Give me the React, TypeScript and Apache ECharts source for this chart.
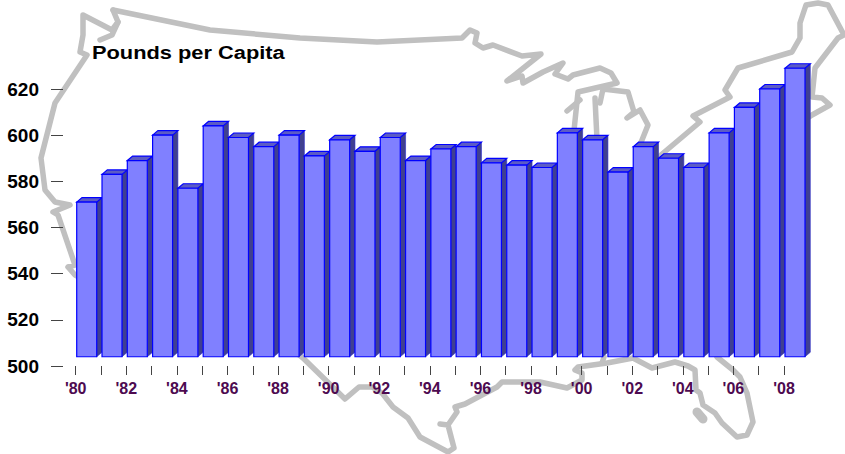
import React, { useEffect, useRef } from "react";
import * as echarts from "echarts";

const years = ["'80","'81","'82","'83","'84","'85","'86","'87","'88","'89","'90","'91","'92","'93","'94","'95","'96","'97","'98","'99","'00","'01","'02","'03","'04","'05","'06","'07","'08"];
const pounds = [571,583,589,600,577,604,599,595,600,591,598,593,599,589,594,595,588,587,586,601,598,584,595,590,586,601,612,620,629];
const barBase = 504;
const titleText = "Pounds per Capita";

const mapNorth = [[113,10],[210,30],[300,38],[377,42],[462,38],[470,30],[477,33],[475,43],[483,48],[493,45],[522,56],[541,54],[507,81],[522,76],[523,83],[543,72],[563,63],[555,74],[568,79],[573,75],[600,68],[611,73],[617,83],[578,92],[573,140]];
const mapGreenBay = [[567,111],[580,100]];
const mapMichiganWest = [[597,140],[595,98]];
const mapMichigan = [[600,103],[603,89],[628,92],[634,112],[627,118],[640,110],[648,125],[640,145]];
const mapEast = [[655,160],[700,122],[693,116],[730,97],[725,90],[738,68],[792,52],[800,38],[800,23],[806,5],[818,3],[828,5],[844,35],[838,38],[815,68],[812,97],[822,98],[830,105],[812,115],[790,130]];
const mapSouth = [[717,357],[733,370],[740,377],[747,393],[753,422],[747,435],[737,437],[722,423],[715,413],[703,405],[700,393],[696,390],[695,370],[688,366],[675,362],[652,368],[633,358],[607,363],[578,367],[575,370],[582,373],[582,380],[567,388],[540,382],[502,382],[497,387],[465,404],[455,407],[457,412],[448,425],[440,424],[448,425],[454,448],[448,452],[420,437],[408,418],[393,407],[382,393],[372,387],[359,387],[345,399],[303,358],[280,340]];
const mapWest = [[85,280],[75,275],[68,267],[75,265],[58,215],[53,212],[70,205],[55,202],[45,190],[41,158],[55,103],[87,55],[80,52],[83,35],[83,15],[112,30],[118,22],[113,10]];
const mapHook = [[100,40],[112,35],[118,22]];
const mapStub = [[602,363],[604,357]];
const mapKeys = [[697,412],[703,419]];
const mapLines = [mapNorth, mapGreenBay, mapMichiganWest, mapMichigan, mapEast, mapSouth, mapWest, mapHook, mapStub];

const LINE = "#0000ff";

function renderBar(params: any, api: any) {
  const i = api.value(0);
  const top = api.coord([i, api.value(1)]);
  const base = api.coord([i, barBase]);
  const pitch = api.size([1, 0])[0];
  const x0 = top[0] + pitch * 0.04;
  const x1 = x0 + pitch * 0.79;
  const dx = pitch * 0.21;
  const dy = 4.5;
  const y0 = top[1];
  const y1 = base[1];
  const stroke = { stroke: LINE, lineWidth: 1.2, lineJoin: "miter" };
  return {
    type: "group",
    children: [
      { type: "polygon", shape: { points: [[x1, y0], [x1 + dx, y0 - dy], [x1 + dx, y1 - dy], [x1, y1]] }, style: { fill: "#404090", stroke: "#2a2ac8", lineWidth: 0.6 } },
      { type: "polygon", shape: { points: [[x0, y0], [x0 + dx, y0 - dy], [x1 + dx, y0 - dy], [x1, y0]] }, style: { fill: "#5c5cc4", ...stroke } },
      { type: "rect", shape: { x: x0, y: y0, width: x1 - x0, height: y1 - y0 }, style: { fill: "#8080ff", ...stroke } },
    ],
  };
}

export default function App() {
  const ref = useRef<HTMLDivElement>(null);
  useEffect(() => {
    document.body.style.margin = "0";
    const chart = echarts.init(ref.current!, null, { renderer: "svg" });
    const mapStyle = { stroke: "#c0c0c0", lineWidth: 5.5, fill: "none", lineJoin: "round", lineCap: "round" };
    chart.setOption({
      animation: false,
      backgroundColor: "#ffffff",
      grid: { left: 75.7, right: 61, top: 89, bottom: 88 },
      xAxis: {
        type: "category",
        boundaryGap: false,
        data: years,
        axisLine: { show: false },
        axisTick: { show: true, length: 9, interval: 0, lineStyle: { color: "#444444", width: 1 } },
        axisLabel: { interval: 1, margin: 14, fontFamily: "Liberation Sans", fontWeight: "bold", fontSize: 16, color: "#4d0a50" },
        splitLine: { show: false },
      },
      yAxis: {
        type: "value",
        min: 500,
        max: 620,
        interval: 20,
        offset: 12.7,
        axisLine: { show: false },
        axisTick: { show: true, length: 12, lineStyle: { color: "#444444", width: 1 } },
        axisLabel: { margin: 24, fontFamily: "Liberation Sans", fontWeight: "bold", fontSize: 19, color: "#000000" },
        splitLine: { show: false },
      },
      graphic: {
        elements: [
          ...mapLines.map((points) => ({ type: "polyline", z: -1, shape: { points }, style: mapStyle })),
          { type: "polyline", z: -1, shape: { points: mapKeys }, style: { ...mapStyle, lineWidth: 9 } },
          {
            type: "text",
            x: 92,
            y: 53,
            scaleX: 1.24,
            style: { text: titleText, font: 'bold 17.6px "Liberation Sans"', fill: "#000000", textVerticalAlign: "middle", textBaseline: "middle" },
          },
        ],
      },
      series: [
        {
          type: "custom",
          renderItem: renderBar,
          encode: { x: 0, y: 1 },
          data: pounds.map((v, i) => [i, v]),
          z: 5,
        },
      ],
    });
    return () => chart.dispose();
  }, []);
  return <div ref={ref} style={{ width: 845, height: 454 }} />;
}
